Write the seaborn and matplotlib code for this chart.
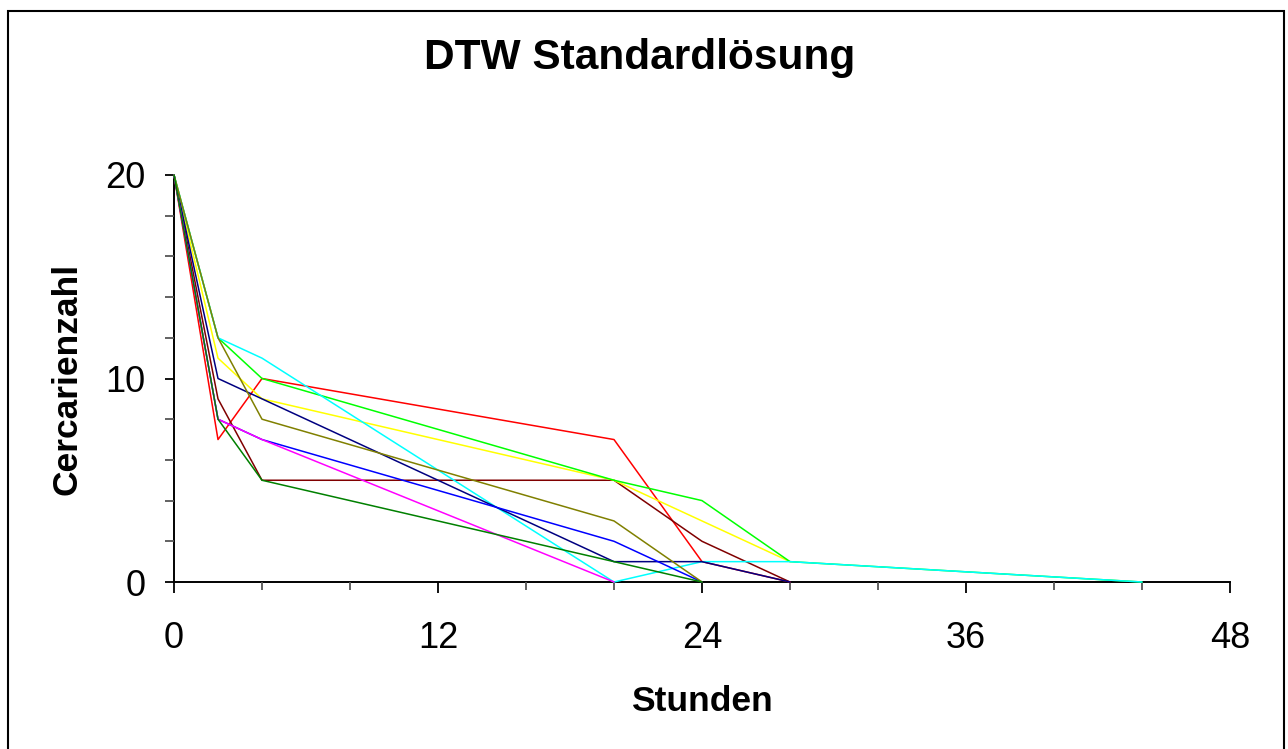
import numpy as np
import pandas as pd
import matplotlib
matplotlib.use("Agg")
import matplotlib.pyplot as plt
from matplotlib.patches import Rectangle
from matplotlib.ticker import MultipleLocator
import seaborn as sns

# Messzeitpunkte (Stunden) und Cercarienzahl je Ansatz
stunden = [0, 2, 4, 20, 24, 28, 44]

ansatz_rot = [20, 7, 10, 7, 1, 0, None]
ansatz_dunkelrot = [20, 9, 5, 5, 2, 0, None]
ansatz_gelb = [20, 11, 9, 5, 3, 1, None]
ansatz_hellgruen = [20, 12, 10, 5, 4, 1, 0]
ansatz_tuerkis = [20, 12, 11, 0, 1, 1, 0]
ansatz_marine = [20, 10, 9, 1, 1, 0, None]
ansatz_blau = [20, 8, 7, 2, 0, None, None]
ansatz_magenta = [20, 8, 7, 0, None, None, None]
ansatz_oliv = [20, 12, 8, 3, 0, None, None]
ansatz_gruen = [20, 8, 5, 1, 0, None, None]

x_ticks = [0, 12, 24, 36, 48]
y_ticks = [0, 10, 20]

reihen = {
    "Ansatz 1": (ansatz_rot, "#FF0000"),
    "Ansatz 2": (ansatz_dunkelrot, "#800000"),
    "Ansatz 3": (ansatz_gelb, "#FFFF00"),
    "Ansatz 4": (ansatz_hellgruen, "#00FF00"),
    "Ansatz 5": (ansatz_tuerkis, "#00FFFF"),
    "Ansatz 6": (ansatz_marine, "#000080"),
    "Ansatz 7": (ansatz_blau, "#0000FF"),
    "Ansatz 8": (ansatz_magenta, "#FF00FF"),
    "Ansatz 9": (ansatz_oliv, "#808000"),
    "Ansatz 10": (ansatz_gruen, "#008000"),
}

zeilen = []
for name, (werte, _) in reihen.items():
    for h, n in zip(stunden, werte):
        if n is not None:
            zeilen.append({"Ansatz": name, "Stunden": h, "Cercarienzahl": n})
df = pd.DataFrame(zeilen)
palette = {name: farbe for name, (_, farbe) in reihen.items()}

sns.set_theme(style="white")
plt.rcParams["font.family"] = ["Liberation Sans", "DejaVu Sans"]
plt.rcParams["text.color"] = "black"
plt.rcParams["xtick.color"] = "black"
plt.rcParams["ytick.color"] = "black"
plt.rcParams["axes.labelcolor"] = "black"

W, H = 1288, 749
fig = plt.figure(figsize=(W / 100, H / 100), dpi=100)
fig.patch.set_facecolor("white")

x0, x1, y0, y1 = 174, 1230, 175, 582
ax = fig.add_axes([x0 / W, 1 - y1 / H, (x1 - x0) / W, (y1 - y0) / H])
ax.set_facecolor("white")

sns.lineplot(data=df, x="Stunden", y="Cercarienzahl", hue="Ansatz",
             palette=palette, estimator=None, sort=False, legend=False,
             linewidth=1.1, ax=ax)
for ln in ax.lines:
    ln.set_clip_on(False)

ax.set_xlim(0, 48)
ax.set_ylim(0, 20)
ax.set_xlabel("")
ax.set_ylabel("")

for s in ["top", "right"]:
    ax.spines[s].set_visible(False)
for s in ["left", "bottom"]:
    ax.spines[s].set_color("black")
    ax.spines[s].set_linewidth(1.4)
    ax.spines[s].set_zorder(0.5)

ax.set_xticks(x_ticks)
ax.set_xticklabels([str(v) for v in x_ticks])
ax.set_yticks(y_ticks)
ax.set_yticklabels([str(v) for v in y_ticks])
ax.xaxis.set_minor_locator(MultipleLocator(4))
ax.yaxis.set_minor_locator(MultipleLocator(2))

ax.tick_params(axis="x", which="major", direction="out", length=8, width=1.3,
               color="black", labelcolor="black", labelsize=26, pad=20,
               bottom=True)
ax.tick_params(axis="x", which="minor", direction="out", length=5.8, width=1.3,
               color="#555555", bottom=True)
ax.tick_params(axis="y", which="major", direction="out", length=6.5, width=1.3,
               color="black", labelcolor="black", labelsize=26, pad=14,
               left=True)
ax.tick_params(axis="y", which="minor", direction="out", length=6.5, width=1.3,
               color="#555555", left=True)

# Titel und Achsenbeschriftungen
fig.text(640 / W, 1 - 69 / H, "DTW Standardlösung", ha="center",
         va="baseline", fontsize=30.5, fontweight="bold", color="black")
fig.text(702 / W, 1 - 711 / H, "Stunden", ha="center", va="baseline",
         fontsize=25.5, fontweight="bold", color="black")
fig.text(77 / W, 1 - 379 / H, "Cercarienzahl", ha="center", va="baseline",
         rotation=90, rotation_mode="anchor", fontsize=25.5,
         fontweight="bold", color="black")

# Rahmen um das Diagramm
fig.patches.append(Rectangle((8 / W, -0.05), (1284 - 8) / W, 1.05 - 11 / H,
                             transform=fig.transFigure, fill=False,
                             edgecolor="black", linewidth=1.5))

fig.savefig("out.png", dpi=100, facecolor="white")
